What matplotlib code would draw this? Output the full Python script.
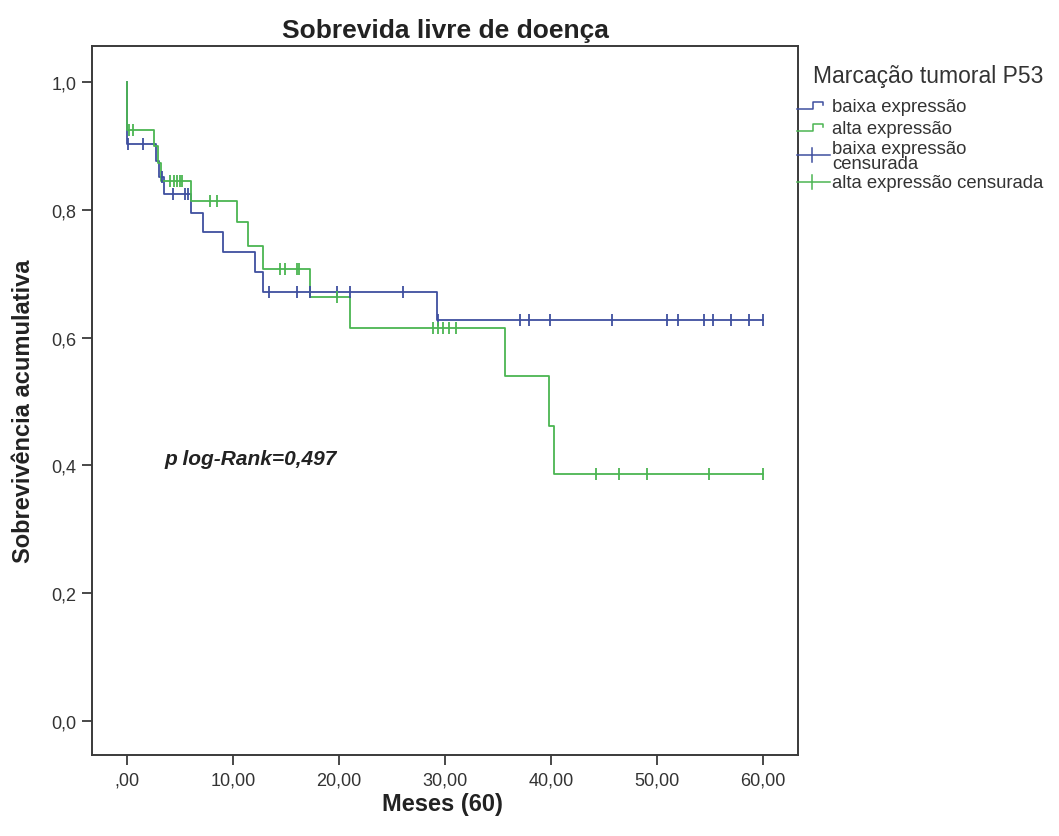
import matplotlib
matplotlib.use("Agg")
import matplotlib.pyplot as plt
from matplotlib.lines import Line2D

plt.rcParams['font.family'] = ['Liberation Sans', 'DejaVu Sans']

# ---- data ----
baixa_t = [0, 0, 2.7, 3.0, 3.5, 6.0, 7.2, 9.1, 12.1, 12.8, 29.2, 60.0]
baixa_s = [1.0, 0.903, 0.876, 0.851, 0.825, 0.795, 0.765, 0.734, 0.703, 0.671, 0.628, 0.628]
baixa_cens_t = [0.1, 1.5, 3.3, 4.3, 5.5, 5.8, 13.4, 16.0, 17.3, 19.8, 21.0, 26.0,
                29.3, 37.1, 37.9, 39.9, 45.8, 50.9, 52.0, 54.4, 55.3, 57.0, 58.7, 60.0]
baixa_cens_s = [0.903, 0.903, 0.851, 0.825, 0.825, 0.825, 0.671, 0.671, 0.671, 0.671, 0.671, 0.671,
                0.628, 0.628, 0.628, 0.628, 0.628, 0.628, 0.628, 0.628, 0.628, 0.628, 0.628, 0.628]

alta_t = [0, 0, 2.55, 2.9, 3.2, 6.0, 10.4, 11.4, 12.8, 17.3, 21.0, 35.7, 39.8, 40.3, 60.0]
alta_s = [1.0, 0.925, 0.900, 0.873, 0.845, 0.814, 0.781, 0.743, 0.707, 0.664, 0.615, 0.540, 0.462, 0.387, 0.387]
alta_cens_t = [0.2, 0.6, 4.1, 4.4, 4.7, 5.0, 5.2, 7.8, 8.5, 14.4, 14.9, 16.0, 16.2, 19.8,
               28.9, 29.3, 29.8, 30.4, 31.0, 44.2, 46.4, 49.1, 54.9, 60.0]
alta_cens_s = [0.925, 0.925, 0.845, 0.845, 0.845, 0.845, 0.845, 0.814, 0.814, 0.707, 0.707, 0.707, 0.707, 0.664,
               0.615, 0.615, 0.615, 0.615, 0.615, 0.387, 0.387, 0.387, 0.387, 0.387]

x_ticks = [0, 10, 20, 30, 40, 50, 60]
x_tick_labels = [",00", "10,00", "20,00", "30,00", "40,00", "50,00", "60,00"]
y_ticks = [0.0, 0.2, 0.4, 0.6, 0.8, 1.0]
y_tick_labels = ["0,0", "0,2", "0,4", "0,6", "0,8", "1,0"]

group_names = ["baixa expressão", "alta expressão"]
cens_names = ["baixa expressão\ncensurada", "alta expressão censurada"]

BLUE = '#3f4f9f'
GREEN = '#4bb552'
FRAME = '#3a3a3a'
TXT = '#222222'

W, H = 1059, 837
fig = plt.figure(figsize=(W / 100, H / 100), dpi=100)
fig.patch.set_facecolor('white')

def fx(x):
    return x / W

def fy(y):
    return 1 - y / H

ax = fig.add_axes([fx(92), fy(756), (798 - 92) / W, (756 - 47) / H])

ax.step(baixa_t, baixa_s, where='post', color=BLUE, lw=1.3)
ax.step(alta_t, alta_s, where='post', color=GREEN, lw=1.3)
ax.plot(baixa_cens_t, baixa_cens_s, ls='none', marker='|', ms=8, mew=1.3, color=BLUE)
ax.plot(alta_cens_t, alta_cens_s, ls='none', marker='|', ms=8, mew=1.3, color=GREEN)

ax.set_xlim(-3.30, 63.3)
ax.set_ylim(-0.0532, 1.0563)
ax.set_xticks(x_ticks)
ax.set_xticklabels(x_tick_labels)
ax.set_yticks(y_ticks)
ax.set_yticklabels(y_tick_labels)
ax.tick_params(axis='both', direction='out', length=7, width=1.3, color=FRAME,
               labelsize=13, labelcolor='#333333', pad=4)
ax.tick_params(axis='x', pad=5)
for sp in ax.spines.values():
    sp.set_color(FRAME)
    sp.set_linewidth(1.4)

ax.set_title("Sobrevida livre de doença", fontsize=19, fontweight='bold', color=TXT, pad=6.5)
fig.text(fx(24), fy(411), "Sobrevivência acumulativa", rotation=90, ha='center', va='center',
         fontsize=17, fontweight='bold', color=TXT)
fig.text(fx(442), fy(805), "Meses (60)", ha='center', va='center',
         fontsize=17, fontweight='bold', color=TXT)
ax.text(3.58, 0.402, "p log-Rank=0,497", fontsize=15, fontweight='bold', fontstyle='italic',
        color=TXT, ha='left', va='baseline')

# ---- legend (drawn manually, SPSS style) ----
fig.text(fx(813), fy(76), "Marcação tumoral P53", fontsize=16.5, color='#333333', ha='left', va='center')

def step_handle(y, color):
    xs = [797, 813, 813, 823, 823]
    ys = [y + 2, y + 2, y - 5, y - 5, y - 2]
    fig.add_artist(Line2D([fx(v) for v in xs], [fy(v) for v in ys], color=color, lw=1.1,
                         transform=fig.transFigure))

def cross_handle(y, color):
    fig.add_artist(Line2D([fx(797), fx(830)], [fy(y), fy(y)], color=color, lw=1.1,
                         transform=fig.transFigure))
    fig.add_artist(Line2D([fx(812), fx(812)], [fy(y - 7), fy(y + 7)], color=color, lw=1.1,
                         transform=fig.transFigure))

LEG_FS = 13.3
step_handle(108, BLUE)
fig.text(fx(832), fy(108), group_names[0], fontsize=LEG_FS, color='#333333', ha='left', va='center')
step_handle(130, GREEN)
fig.text(fx(832), fy(130), group_names[1], fontsize=LEG_FS, color='#333333', ha='left', va='center')
cross_handle(156, BLUE)
fig.text(fx(832), fy(157), cens_names[0], fontsize=LEG_FS, color='#333333', ha='left', va='center',
         linespacing=0.9)
cross_handle(183, GREEN)
fig.text(fx(832), fy(184), cens_names[1], fontsize=LEG_FS, color='#333333', ha='left', va='center')

fig.savefig("out.png", dpi=100, facecolor='white')
